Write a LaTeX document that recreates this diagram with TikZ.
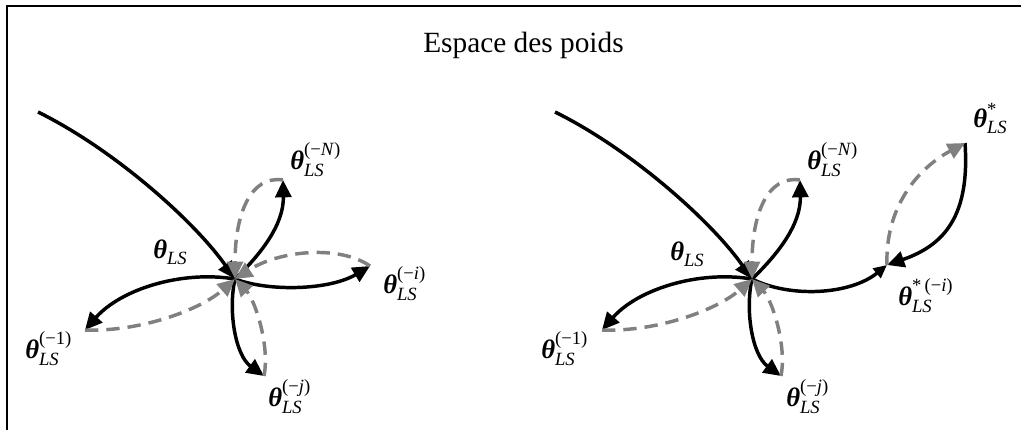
\documentclass[tikz,border=0pt]{standalone}
\usepackage{amsmath}
\usepackage{fontspec}
\setmainfont{Liberation Serif}
\usepackage{tikz}
\usetikzlibrary{arrows.meta}

\newcommand{\thls}[1]{$\text{\bfseries\itshape θ}^{\text{#1}}_{\text{\itshape LS}}$}

\begin{document}
\begin{tikzpicture}[x=0.75pt, y=-0.75pt,
  fwd/.style={draw=black, line width=2.6pt, -{Triangle[length=13pt, width=12pt]}},
  ret/.style={draw=gray, line width=2.6pt, dash pattern=on 10pt off 6pt,
              -{Triangle[length=13pt, width=12pt]}},
  lbl/.style={inner sep=0pt, anchor=base west, font=\fontsize{20}{24}\selectfont}
]
  \useasboundingbox (0,0) rectangle (1021,430);
  \draw[line width=1.5pt] (6.5,430) |- (1021,5.5);
  \node[anchor=base, font=\fontsize{22}{26}\selectfont] (title) at (523.5,52) {Espace des poids};

  \coordinate (c) at (235,279);
  \coordinate (s) at (38,112);
  \coordinate (pn) at (283,180);
  \coordinate (pi) at (370,266);
  \coordinate (p1) at (85,330);
  \coordinate (pj) at (264,376);

  \draw[fwd] (s) .. controls (115,150) and (195,222) .. (c);
  \draw[fwd] (c) .. controls (260,255) and (284,225) .. (pn);
  \draw[fwd] (c) .. controls (270,292) and (330,290) .. (pi);
  \draw[fwd] (c) .. controls (180,270) and (120,290) .. (p1);
  \draw[fwd] (c) .. controls (228,310) and (235,355) .. (pj);
  \draw[ret] (pn) .. controls (250,175) and (235,215) .. (c);
  \draw[ret] (pi) .. controls (340,245) and (280,250) .. (c);
  \draw[ret] (p1) .. controls (140,332) and (200,310) .. (c);
  \draw[ret] (pj) .. controls (270,345) and (255,300) .. (c);

  \node[lbl] (thls) at (153,258) {\thls{}};
  \node[lbl] (thn) at (290,169) {\thls{(−\textit{N})}};
  \node[lbl] (thi) at (383,293) {\thls{(−\textit{i})}};
  \node[lbl] (th1) at (25,358) {\thls{(−1)}};
  \node[lbl] (thj) at (268,406) {\thls{(−\textit{j})}};

  \coordinate (rc) at (752,279);
  \coordinate (rs) at (555,112);
  \coordinate (rpn) at (800,180);
  \coordinate (rpi) at (887,265);
  \coordinate (rp1) at (602,330);
  \coordinate (rpj) at (781,376);
  \coordinate (rpst) at (965,143);

  \draw[fwd] (rs) .. controls (632,150) and (712,222) .. (rc);
  \draw[fwd] (rc) .. controls (777,255) and (801,225) .. (rpn);
  \draw[fwd, -{Triangle[length=10pt, width=9pt]}] (rc) .. controls (790,298) and (850,295) .. (rpi);
  \draw[fwd] (rc) .. controls (697,270) and (637,290) .. (rp1);
  \draw[fwd] (rc) .. controls (745,310) and (752,355) .. (rpj);
  \draw[fwd] (rpst) .. controls (970,215) and (945,245) .. (rpi);
  \draw[ret] (rpn) .. controls (767,175) and (752,215) .. (rc);
  \draw[ret] (rp1) .. controls (657,332) and (717,310) .. (rc);
  \draw[ret] (rpj) .. controls (787,345) and (772,300) .. (rc);
  \draw[ret] (rpi) .. controls (885,210) and (915,170) .. (rpst);

  \node[lbl] (rthls) at (670,260) {\thls{}};
  \node[lbl] (rthn) at (807,169) {\thls{(−\textit{N})}};
  \node[lbl] (rth1) at (541,358) {\thls{(−1)}};
  \node[lbl] (rthj) at (786,406) {\thls{(−\textit{j})}};
  \node[lbl] (thst) at (973,127) {\thls{*}};
  \node[lbl] (thsti) at (898,305) {\thls{*\,(−\textit{i})}};
\end{tikzpicture}
\end{document}
